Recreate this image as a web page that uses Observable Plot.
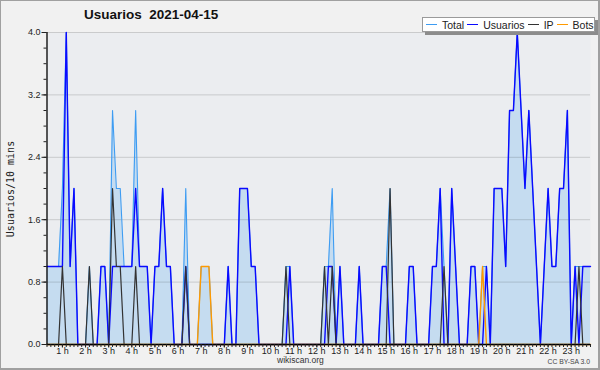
<!DOCTYPE html>
<html>
<head>
<meta charset="utf-8">
<script src="https://cdn.jsdelivr.net/npm/d3@7"></script>
<script src="https://cdn.jsdelivr.net/npm/@observablehq/plot@0.6"></script>
<style>
  body { margin: 0; background: #ffffff; }
  #chart { position: relative; width: 600px; height: 370px; background: #f1f1f1; overflow: hidden; font-family: "Liberation Sans", Arial, sans-serif; }
  #chart svg { position: absolute; left: 0; top: 0; }
  #frame { position: absolute; left: 0; top: 0; right: 0; bottom: 0; border: 1px solid #a0a0a0; border-right-width: 2px; border-bottom-width: 2px; pointer-events: none; }
  #title { position: absolute; left: 84px; top: 7px; font: bold 13.5px "Liberation Sans", Arial, sans-serif; color: #111; white-space: pre; }
  #ytitle { position: absolute; left: 10px; top: 189px; transform: translate(-50%, -50%) rotate(-90deg); font: 10px "DejaVu Sans Mono", monospace; color: #222; white-space: nowrap; }
  #legend { position: absolute; left: 422px; top: 17px; width: 168px; height: 13px; background: #fff; border: 1px solid #9a9a9a; box-shadow: 3px 3px 0 #8c8c8c; display: flex; align-items: center; font: 10.5px "Liberation Sans", Arial, sans-serif; color: #222; }
  .item { display: flex; align-items: center; margin-right: 3px; white-space: nowrap; }
  .swatch { width: 11px; height: 1.5px; margin-right: 5px; }
  #credit { position: absolute; left: 277px; top: 355px; font: 8.5px "Liberation Sans", Arial, sans-serif; color: #333; }
  #license { position: absolute; right: 10px; top: 358px; font: 6.8px "Liberation Sans", Arial, sans-serif; color: #444; }
</style>
</head>
<body>
<div id="chart"></div>
<script>
// ---- data (10-minute samples from 00:20 to 23:50) ----
const startMinute = 20;
const stepMinutes = 10;

const usuarios = [
  1,1,1,1,1,4,1,2,0,0,
  0,0,0,0,1,1,0,1,1,1,
  1,1,1,2,1,1,1,0,1,1,
  2,1,1,0,0,0,1,0,0,0,
  0,0,0,0,0,0,0,1,0,0,
  2,2,2,1,1,0,0,0,0,0,
  0,0,0,1,0,0,0,0,0,0,
  0,0,0,1,1,0,1,0,0,0,
  0,1,0,0,0,0,0,1,1,0,
  0,0,0,0,1,1,0,0,0,0,
  1,1,2,0,0,2,1,0,0,0,
  1,1,0,0,1,0,2,2,2,1,
  3,3,4,3,2,3,2,1,0,1,
  2,1,1,2,2,3,0,1,0,1,
  1,1
];

const ip = [
  0,0,0,0,1,0,0,0,0,0,
  0,1,0,0,0,0,0,2,1,1,
  0,0,0,1,0,0,0,0,0,0,
  0,0,0,0,0,0,1,0,0,0,
  0,0,0,0,0,0,0,0,0,0,
  0,0,0,0,0,0,0,0,0,0,
  0,0,1,0,0,0,0,0,0,0,
  0,0,1,0,1,0,0,0,0,0,
  0,0,0,0,0,0,0,0,0,2,
  0,0,0,0,0,0,0,0,0,0,
  0,0,0,1,0,0,0,0,0,0,
  0,0,0,0,0,0,0,0,0,0,
  0,0,0,0,0,0,0,0,0,0,
  0,0,0,0,0,0,0,0,1,0,
  0,0
];

const bots = [
  0,0,0,0,0,0,0,0,0,0,
  0,0,0,0,0,0,0,0,0,0,
  0,0,0,0,0,0,0,0,0,0,
  0,0,0,0,0,0,0,0,0,0,
  1,1,1,0,0,0,0,0,0,0,
  0,0,0,0,0,0,0,0,0,0,
  0,0,0,0,0,0,0,0,0,0,
  0,0,0,0,0,0,0,0,0,0,
  0,0,0,0,0,0,0,0,0,0,
  0,0,0,0,0,0,0,0,0,0,
  0,0,0,0,0,0,0,0,0,0,
  0,0,0,1,0,0,0,0,0,0,
  0,0,0,0,0,0,0,0,0,0,
  0,0,0,0,0,0,0,0,0,0,
  0,0
];

const total = [
  1,1,1,1,2,4,1,2,0,0,
  0,1,0,0,1,1,0,3,2,2,
  1,1,1,3,1,1,1,0,1,1,
  2,1,1,0,0,0,2,0,0,0,
  1,1,1,0,0,0,0,1,0,0,
  2,2,2,1,1,0,0,0,0,0,
  0,0,1,1,0,0,0,0,0,0,
  0,0,1,1,2,0,1,0,0,0,
  0,1,0,0,0,0,0,1,1,2,
  0,0,0,0,1,1,0,0,0,0,
  1,1,2,1,0,2,1,0,0,0,
  1,1,0,1,1,0,2,2,2,1,
  3,3,4,3,2,3,2,1,0,1,
  2,1,1,2,2,3,0,1,1,1,
  1,1
];

const hourLabels = [1,2,3,4,5,6,7,8,9,10,11,12,13,14,15,16,17,18,19,20,21,22,23];
const yTicks = [0, 0.8, 1.6, 2.4, 3.2, 4.0];
const seriesNames = ["Total", "Usuarios", "IP", "Bots"];
const seriesColors = ["#3d9cf2", "#0a0aff", "#333333", "#ff9a00"];
const titleText = "Usuarios  2021-04-15";
const yTitleText = "Usuarios/10 mins";
const creditText = "wikiscan.org";
const licenseText = "CC BY-SA 3.0";

// ---- table for the library ----
const rows = usuarios.map((u, k) => ({
  minute: startMinute + k * stepMinutes,
  total: total[k], usuarios: u, ip: ip[k], bots: bots[k]
}));
const minuteTicks = d3.range(startMinute, startMinute + usuarios.length * stepMinutes, stepMinutes);
const color = Object.fromEntries(seriesNames.map((n, i) => [n, seriesColors[i]]));

const chart = Plot.plot({
  width: 600, height: 370,
  marginLeft: 46.5, marginRight: 10, marginTop: 32, marginBottom: 26,
  style: { background: "transparent", fontFamily: "'Liberation Sans', Arial, sans-serif", fontSize: "9px", color: "#222", overflow: "visible" },
  x: { domain: [startMinute, minuteTicks[minuteTicks.length - 1]], label: null },
  y: { domain: [0, 4], label: null },
  marks: [
    Plot.frame({ fill: "#ebedf0", stroke: null }),
    Plot.areaY(rows, { x: "minute", y: "total", fill: "#c5dcf0" }),
    Plot.ruleY(yTicks.filter(d => d > 0), { stroke: "#000", strokeOpacity: 0.15 }),
    Plot.line(rows, { x: "minute", y: "total", stroke: color.Total, strokeWidth: 1.1 }),
    Plot.line(rows, { x: "minute", y: "usuarios", stroke: color.Usuarios, strokeWidth: 1.4 }),
    Plot.line(rows, { x: "minute", y: "ip", stroke: color.IP, strokeWidth: 1.2 }),
    Plot.line(rows, { x: "minute", y: "bots", stroke: color.Bots, strokeWidth: 1.4 }),
    Plot.ruleX([startMinute], { stroke: "#000", strokeWidth: 1.3 }),
    Plot.ruleY([0], { stroke: "#000", strokeWidth: 1.6 }),
    Plot.axisY({ ticks: d3.range(0, 4.001, 0.2), tickSize: 3, tickFormat: () => "", label: null }),
    Plot.axisY({ ticks: yTicks, tickSize: 5, tickPadding: 1.5, tickFormat: d => d.toFixed(1), label: null, fontSize: 9 }),
    Plot.axisX({ ticks: minuteTicks, tickSize: 3, tickFormat: () => "", label: null }),
    Plot.axisX({ ticks: hourLabels.map(h => h * 60), tickSize: 3.5, tickPadding: 0, tickFormat: m => `${m / 60} h`, label: null, fontSize: 9 })
  ]
});

const root = document.getElementById("chart");
root.appendChild(chart);

const title = document.createElement("div");
title.id = "title"; title.textContent = titleText; root.appendChild(title);

const yt = document.createElement("div");
yt.id = "ytitle"; yt.textContent = yTitleText; root.appendChild(yt);

const legend = document.createElement("div");
legend.id = "legend";
legend.style.paddingLeft = "3px";
legend.style.boxSizing = "content-box";
seriesNames.forEach((name, i) => {
  const item = document.createElement("div");
  item.className = "item";
  const sw = document.createElement("span");
  sw.className = "swatch"; sw.style.background = seriesColors[i];
  const lab = document.createElement("span");
  lab.textContent = name;
  item.appendChild(sw); item.appendChild(lab);
  legend.appendChild(item);
});
root.appendChild(legend);

const credit = document.createElement("div");
credit.id = "credit"; credit.textContent = creditText; root.appendChild(credit);
const lic = document.createElement("div");
lic.id = "license"; lic.textContent = licenseText; root.appendChild(lic);

const frame = document.createElement("div");
frame.id = "frame"; root.appendChild(frame);
</script>
</body>
</html>
